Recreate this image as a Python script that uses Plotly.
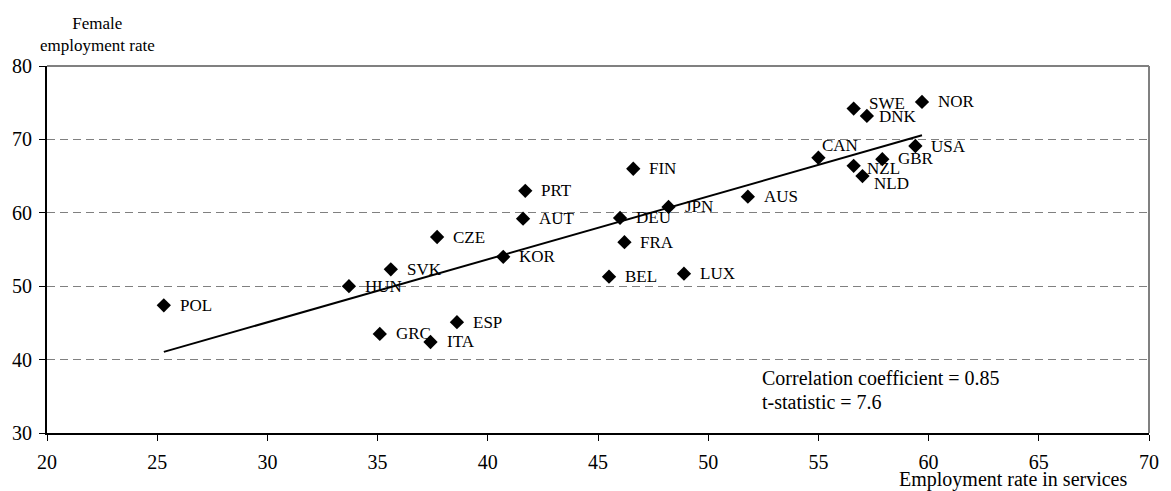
import numpy as np
import plotly.graph_objects as go

countries = ["POL", "HUN", "SVK", "GRC", "CZE", "ITA", "ESP", "KOR", "PRT", "AUT",
             "FIN", "DEU", "FRA", "BEL", "JPN", "LUX", "AUS", "CAN", "SWE", "DNK",
             "NOR", "USA", "GBR", "NZL", "NLD"]
services_rate = [25.3, 33.7, 35.6, 35.1, 37.7, 37.4, 38.6, 40.7, 41.7, 41.6,
                 46.6, 46.0, 46.2, 45.5, 48.2, 48.9, 51.8, 55.0, 56.6, 57.2,
                 59.7, 59.4, 57.9, 56.6, 57.0]
female_rate = [47.4, 50.0, 52.3, 43.5, 56.7, 42.4, 45.1, 54.0, 63.0, 59.2,
               66.0, 59.3, 56.0, 51.3, 60.8, 51.7, 62.2, 67.5, 74.2, 73.2,
               75.1, 69.1, 67.3, 66.4, 65.0]
x_ticks = [20, 25, 30, 35, 40, 45, 50, 55, 60, 65, 70]
y_ticks = [30, 40, 50, 60, 70, 80]
stats_lines = ["Correlation coefficient = 0.85", "t-statistic = 7.6"]

FONT = "Liberation Serif, Times New Roman, serif"

# linear fit drawn over the observed range
slope, intercept = np.polyfit(services_rate, female_rate, 1)
x_fit = np.array([min(services_rate), max(services_rate)])
y_fit = slope * x_fit + intercept

fig = go.Figure()
fig.add_trace(go.Scatter(x=x_fit, y=y_fit, mode="lines",
                         line=dict(color="black", width=2), hoverinfo="skip",
                         showlegend=False))
fig.add_trace(go.Scatter(x=services_rate, y=female_rate, mode="markers",
                         marker=dict(symbol="diamond", size=11, color="black"),
                         text=countries, showlegend=False))

# label offsets (pixels): default right of the marker
offsets = {"SWE": (13, 5), "CAN": (2, 12), "NZL": (11, -3), "NLD": (10, -7),
           "DNK": (10, -1), "GBR": (14, 1)}
annotations = []
for c, xv, yv in zip(countries, services_rate, female_rate):
    dx, dy = offsets.get(c, (14, 0))
    annotations.append(dict(x=xv, y=yv, text=c, showarrow=False, xanchor="left",
                            yanchor="middle", xshift=dx, yshift=dy,
                            font=dict(family=FONT, size=17, color="black")))

annotations.append(dict(x=0, y=1, xref="paper", yref="paper", text="Female<br>employment rate",
                        showarrow=False, xanchor="center", yanchor="middle",
                        xshift=50, yshift=32, align="center",
                        font=dict(family=FONT, size=17, color="black")))
annotations.append(dict(x=1, y=0, xref="paper", yref="paper", text="Employment rate in services",
                        showarrow=False, xanchor="right", yanchor="middle",
                        xshift=-20, yshift=-46,
                        font=dict(family=FONT, size=20, color="black")))
annotations.append(dict(x=52.35, y=37.5, text=stats_lines[0], showarrow=False,
                        xanchor="left", yanchor="middle",
                        font=dict(family=FONT, size=20, color="black")))
annotations.append(dict(x=52.35, y=34.2, text=stats_lines[1], showarrow=False,
                        xanchor="left", yanchor="middle",
                        font=dict(family=FONT, size=20, color="black")))

fig.update_layout(
    width=1171, height=491,
    margin=dict(l=46, r=14, t=66, b=58),
    paper_bgcolor="white", plot_bgcolor="white",
    font=dict(family=FONT, size=20, color="black"),
    annotations=annotations,
    shapes=[
        dict(type="line", xref="paper", yref="paper", x0=0, x1=1, y0=1, y1=1,
             line=dict(color="#808080", width=2)),
        dict(type="line", xref="paper", yref="paper", x0=1, x1=1, y0=0, y1=1,
             line=dict(color="#808080", width=2)),
    ],
    xaxis=dict(range=[20, 70], tickvals=x_ticks, showgrid=False, zeroline=False,
               showline=True, linecolor="black", linewidth=2,
               ticks="outside", ticklen=6, tickcolor="black", ticklabelstandoff=4,
               tickfont=dict(family=FONT, size=20)),
    yaxis=dict(range=[30, 80], tickvals=y_ticks, showgrid=True,
               gridcolor="#808080", gridwidth=1.3, griddash="8px,5px",
               zeroline=False, showline=True, linecolor="black", linewidth=2,
               ticks="outside", ticklen=6, tickcolor="black", ticklabelstandoff=3,
               tickfont=dict(family=FONT, size=20)),
)

fig.write_html("out.html")
